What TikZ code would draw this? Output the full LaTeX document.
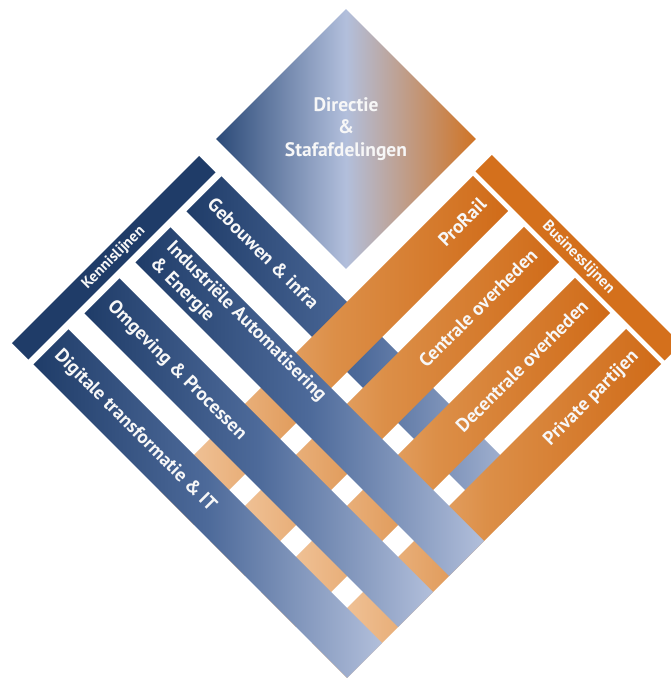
\documentclass[tikz,border=0pt]{standalone}
\usepackage{fontspec}
\setmainfont{PT Sans}
\usetikzlibrary{shapes.geometric}
\definecolor{navy}{HTML}{1F3C68}
\definecolor{navymid}{HTML}{4D6A9A}
\definecolor{navylight}{HTML}{B2BFDB}
\definecolor{orng}{HTML}{D06B18}
\definecolor{orngmid}{HTML}{DC8F48}
\definecolor{peach}{HTML}{F4CDA8}
\definecolor{bizorange}{HTML}{D4701C}
\definecolor{dirleft}{HTML}{2B4A78}
\definecolor{dirmid}{HTML}{B2BFDC}
\definecolor{dirright}{HTML}{D07425}
\definecolor{txt}{HTML}{F7F7F7}
\begin{document}
\begin{tikzpicture}[x=1pt,y=1pt,
  bluestrip/.style={rectangle, rotate=-45, inner sep=0, minimum width=443.4pt, minimum height=49.5pt, left color=navy, right color=navylight, middle color=navymid},
  orangestrip/.style={rectangle, rotate=45, inner sep=0, minimum width=444.1pt, minimum height=49.5pt, left color=peach, right color=orng, middle color=orngmid},
  headblue/.style={rectangle, rotate=45, inner sep=0, minimum width=264.5pt, minimum height=23.3pt, fill=navy},
  headorange/.style={rectangle, rotate=-45, inner sep=0, minimum width=267.3pt, minimum height=23.3pt, fill=bizorange},
  striptext/.style={text=txt, font=\bfseries\fontsize{19}{23}\selectfont, inner sep=0},
  headtext/.style={text=txt, font=\bfseries\fontsize{15.5}{17}\selectfont, inner sep=0},
]
\fill[white] (0,0) rectangle (671,678);
\useasboundingbox (0,0) rectangle (671,678);
% bottom layer: Gebouwen
\node[bluestrip] (geb) at (360.75,327.25) {};
% orange strips
\node[orangestrip] (pro) at (333.5,327.5) {};
\node[orangestrip] (cen) at (384.5,276.5) {};
\node[orangestrip] (dec) at (435.5,225.5) {};
\node[orangestrip] (pri) at (486.5,174.5) {};
% blue strips on top
\node[bluestrip] (ind) at (309.75,276.25) {};
\node[bluestrip] (omg) at (258.75,225.25) {};
\node[bluestrip] (dig) at (207.75,174.25) {};
% headers
\node[headblue] (ken) at (113.75,420.25) {};
\node[headorange] (bus) at (578.25,420.25) {};
% Directie
\node[diamond, shape aspect=1, inner sep=0, minimum width=260pt, minimum height=260pt,
      left color=dirleft, right color=dirright, middle color=dirmid] (dir) at (346,539) {};
% texts
\node[text=txt, font=\bfseries\fontsize{19.5}{22.5}\selectfont, align=center] (dirt) at (346,549) {Directie\\\&\\Stafafdelingen};
\node[headtext, rotate=45] (kent) at (ken.center) {Kennislijnen};
\node[headtext, rotate=-45] (bust) at (bus.center) {Businesslijnen};
\node[striptext, rotate=-45, anchor=west] (gebt) at (211,477) {Gebouwen \& infra};
\node[striptext, rotate=-45, anchor=west, align=left] (indt) at (161,425) {Industriële Automatisering\\\& Energie};
\node[striptext, rotate=-45, anchor=west] (omgt) at (110,374) {Omgeving \& Processen};
\node[striptext, rotate=-45, anchor=west] (digt) at (57,325) {Digitale transformatie \& IT};
\node[striptext, rotate=45, anchor=east] (prot) at (483,477) {ProRail};
\node[striptext, rotate=45, anchor=east] (cent) at (534,426) {Centrale overheden};
\node[striptext, rotate=45, anchor=east] (dect) at (585,375) {Decentrale overheden};
\node[striptext, rotate=45, anchor=east] (prit) at (636,324) {Private partijen};
\end{tikzpicture}
\end{document}
